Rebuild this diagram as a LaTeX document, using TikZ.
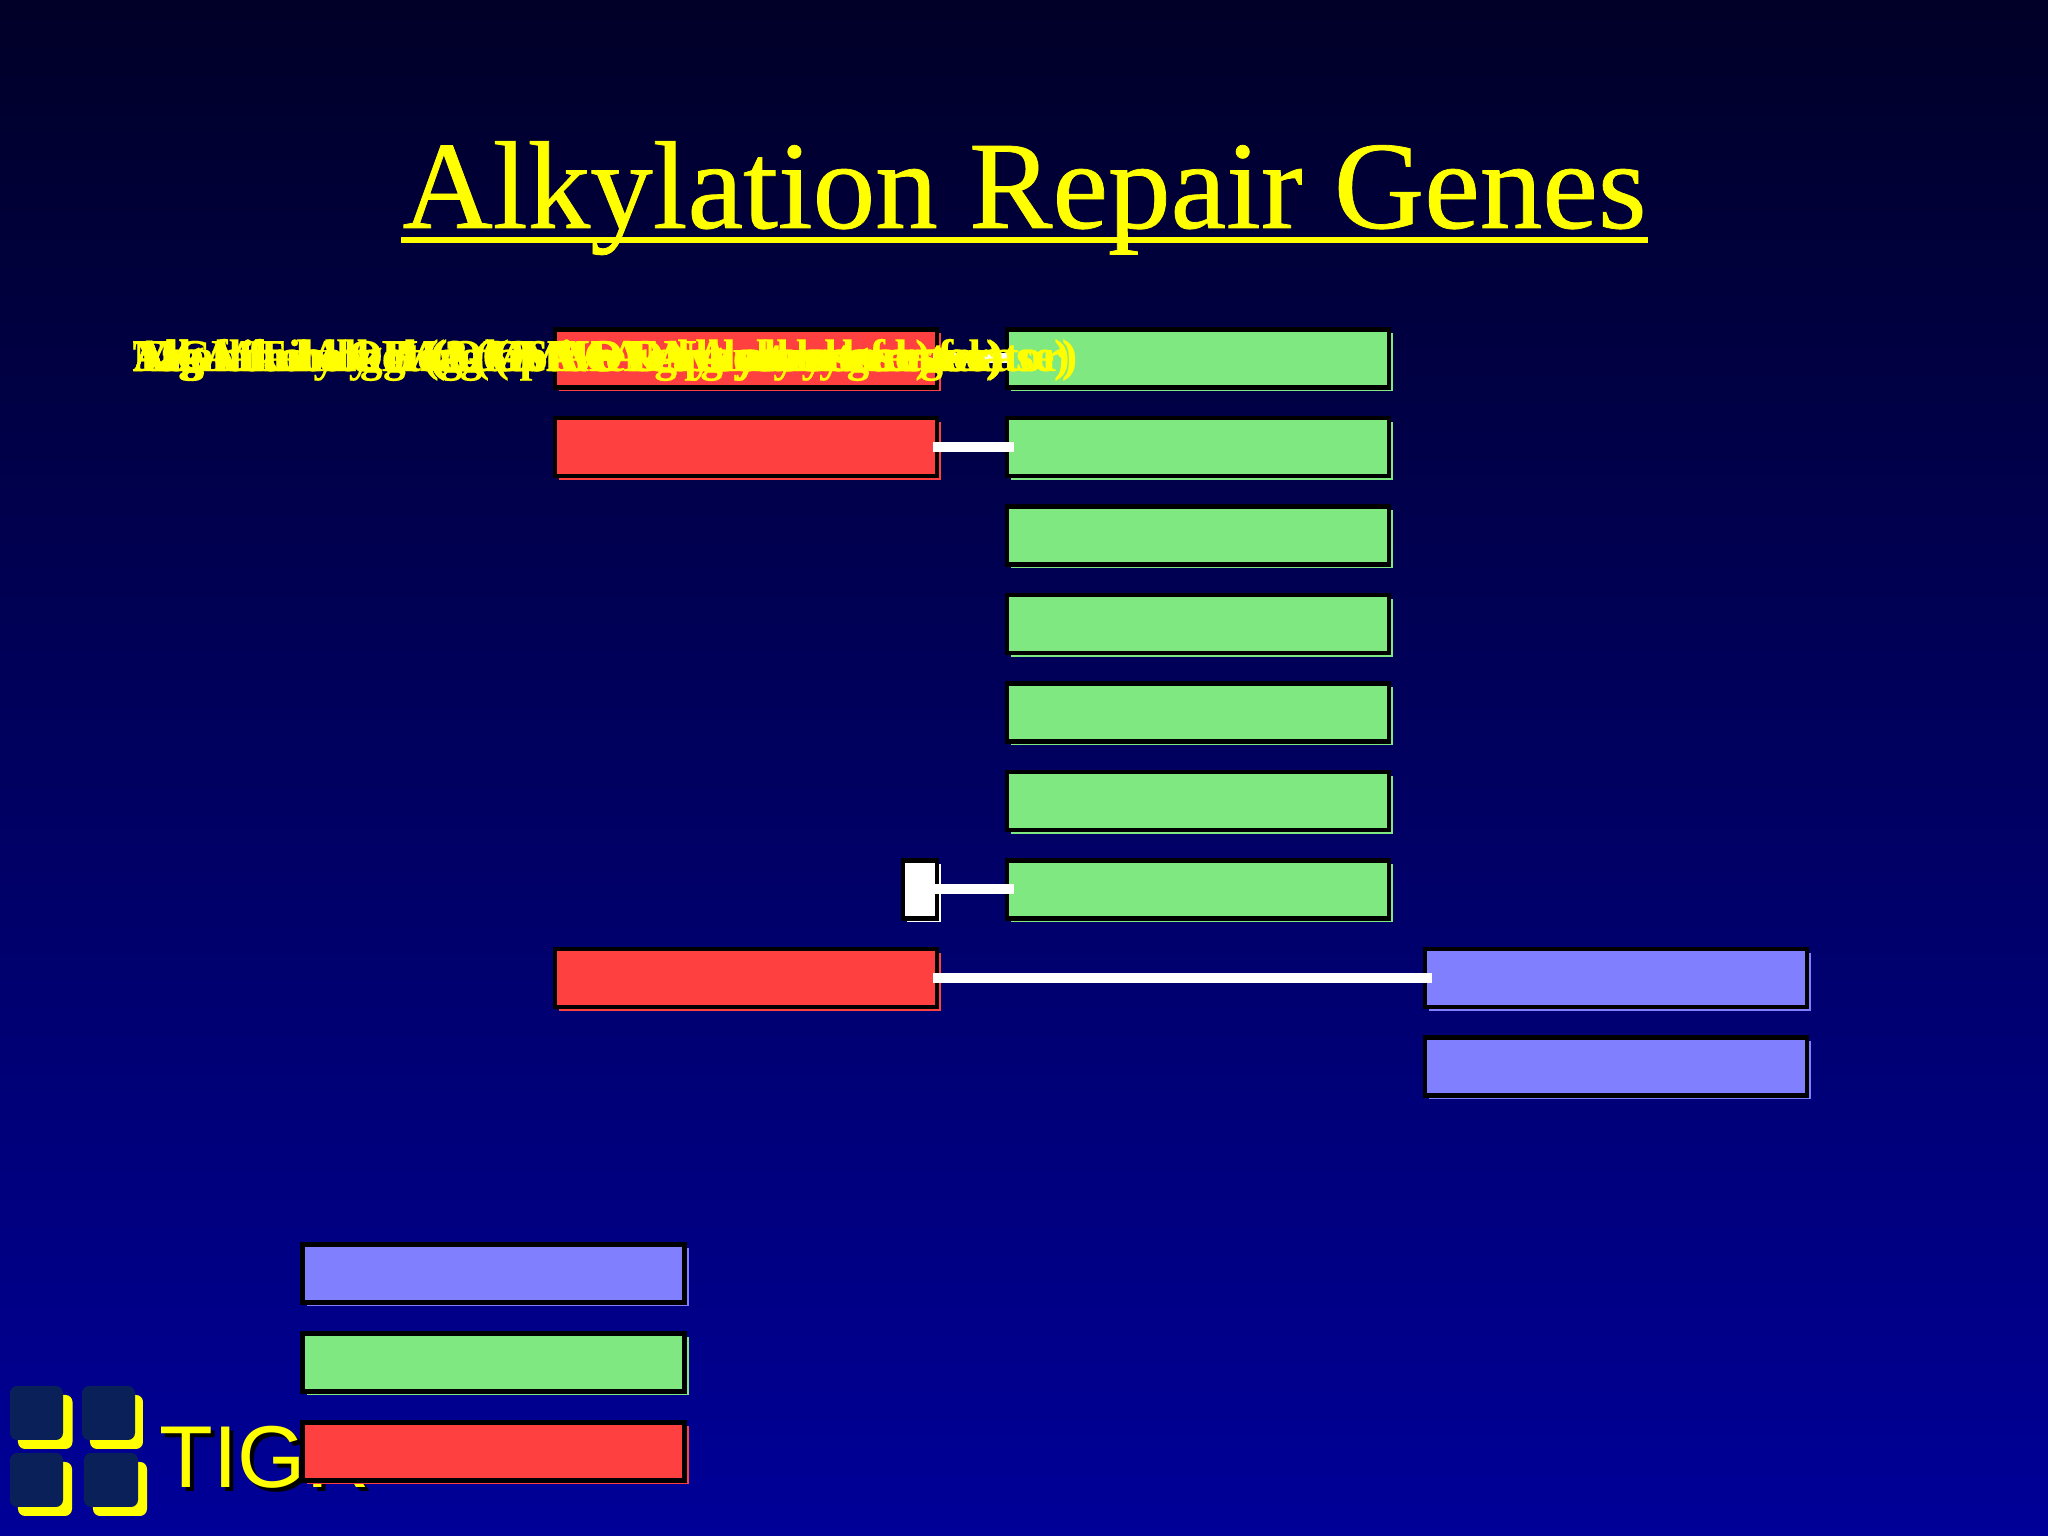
\documentclass[tikz,border=0pt]{standalone}
\usepackage{fontspec}
\setmainfont{Liberation Serif}
\newfontfamily\logofont{Liberation Sans}
\newfontfamily\titlefont[FakeBold=0.6]{Liberation Serif}
\newfontfamily\labelfont[FakeBold=0.4]{Liberation Serif Bold}
\usetikzlibrary{shadows}

\definecolor{topblue}{RGB}{0,0,40}
\definecolor{botblue}{RGB}{0,0,152}
\definecolor{genered}{RGB}{255,64,64}
\definecolor{genegreen}{RGB}{128,232,128}
\definecolor{geneblue}{RGB}{128,128,255}
\definecolor{logodark}{RGB}{10,32,88}
\definecolor{slideyellow}{RGB}{255,255,0}

\begin{document}
\begin{tikzpicture}[
  genebox/.style={draw=black, line width=0.045cm, anchor=north west, outer sep=0pt, minimum width=3.82cm, minimum height=0.58cm},
  redbox/.style={genebox, fill=genered, general shadow={fill=genered, shadow xshift=0.04cm, shadow yshift=-0.04cm}},
  greenbox/.style={genebox, fill=genegreen, general shadow={fill=genegreen, shadow xshift=0.04cm, shadow yshift=-0.04cm}},
  bluebox/.style={genebox, fill=geneblue, general shadow={fill=geneblue, shadow xshift=0.04cm, shadow yshift=-0.04cm}},
  whitebox/.style={genebox, fill=white, minimum width=0.34cm, general shadow={fill=white, shadow xshift=0.04cm, shadow yshift=-0.04cm}},
  link/.style={draw=white, line width=0.1cm, shorten <=-0.04cm, shorten >=-0.07cm},
  genelabel/.style={anchor=base west, inner sep=0pt, text=slideyellow, font=\labelfont\fontsize{12.95pt}{15pt}\selectfont},
  logotile/.style={rounded corners=0.07cm}
]

% background
\shade[top color=topblue, bottom color=botblue] (0,0) rectangle (20.48,15.36);
\useasboundingbox (0,0) rectangle (20.48,15.36);

% title
\node[anchor=base, inner sep=0pt, text=slideyellow, font=\titlefont\fontsize{35.6pt}{40pt}\selectfont] (title) at (10.245,13.08) {Alkylation Repair Genes};
\fill[slideyellow] (4.01,12.93) rectangle (16.48,12.99);

% logo
\fill[slideyellow, logotile] (0.18,0.87) rectangle (0.725,1.41);
\fill[logodark, logotile] (0.10,0.96) rectangle (0.63,1.50);
\fill[slideyellow, logotile] (0.90,0.87) rectangle (1.43,1.41);
\fill[logodark, logotile] (0.82,0.96) rectangle (1.35,1.50);
\fill[slideyellow, logotile] (0.18,0.20) rectangle (0.72,0.74);
\fill[logodark, logotile] (0.10,0.29) rectangle (0.63,0.83);
\fill[slideyellow, logotile] (0.93,0.20) rectangle (1.47,0.74);
\fill[logodark, logotile] (0.84,0.29) rectangle (1.38,0.83);
\node[anchor=base west, inner sep=0pt, text=black, font=\logofont\fontsize{25pt}{28pt}\selectfont] (tigrshadow) at (1.63,0.44) {TIGR};
\node[anchor=base west, inner sep=0pt, text=slideyellow, font=\logofont\fontsize{25pt}{28pt}\selectfont] (tigr) at (1.59,0.48) {TIGR};

% genes, first column
\node[redbox] (red1) at (5.55,12.065) {};
\node[redbox] (red2) at (5.55,11.18) {};
\node[whitebox] (white1) at (9.03,6.755) {};
\node[redbox] (red3) at (5.55,5.87) {};

% genes, second column
\node[greenbox] (green1) at (10.07,12.065) {};
\node[greenbox] (green2) at (10.07,11.18) {};
\node[greenbox] (green3) at (10.07,10.295) {};
\node[greenbox] (green4) at (10.07,9.41) {};
\node[greenbox] (green5) at (10.07,8.525) {};
\node[greenbox] (green6) at (10.07,7.64) {};
\node[greenbox] (green7) at (10.07,6.755) {};

% genes, third column
\node[bluebox] (blue1) at (14.25,5.87) {};
\node[bluebox] (blue2) at (14.25,4.985) {};

% legend
\node[bluebox] (legblue) at (3.025,2.915) {};
\node[greenbox] (leggreen) at (3.025,2.025) {};
\node[redbox] (legred) at (3.025,1.135) {};

% connectors
\draw[link] (red1.east) -- (green1.west);
\draw[link] (red2.east) -- (green2.west);
\draw[link] (white1.east) -- (green7.west);
\draw[link] (red3.east) -- (blue1.west);

% labels
\node[genelabel] (mgmt) at (1.32,11.65) {MGMT homolog (O6-MeG alkyltransferase)};
\node[genelabel] (alka) at (1.32,11.65) {AlkA family II (3-MeA DNA glycosylase)};
\node[genelabel] (ogt) at (1.32,11.65) {Alg family Ogt (O6-MeG DNA alkyltransferase)};
\node[genelabel] (ada) at (1.32,11.65) {Ada-like AlkB (Adaptive response regulator)};
\node[genelabel] (tag) at (1.32,11.65) {Tag homolog Mag (3-MeA glycosylase regulator)};
\end{tikzpicture}
\end{document}
